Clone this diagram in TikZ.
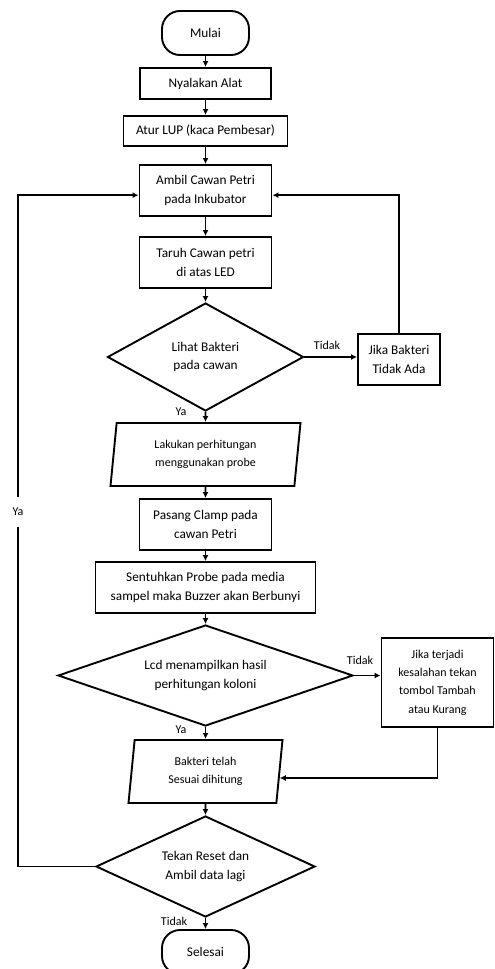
\documentclass[tikz,border=0pt]{standalone}
\usepackage{fontspec}
\setmainfont{Carlito}
\usepackage{tikz}
\usetikzlibrary{arrows.meta}
\usetikzlibrary{shapes.geometric}
\usetikzlibrary{calc}

\begin{document}
\begin{tikzpicture}[x=1pt, y=-1pt,
    important line/.style={line width=1.9pt},
    flow arrow/.style={line width=1.9pt, -{Latex[length=6pt,width=6pt]}},
    startstop/.style={draw, line width=1.9pt, rounded corners=18pt, minimum width=87pt, minimum height=44pt, font=\fontsize{13.3}{18.5}\selectfont},
    process/.style={draw, line width=1.9pt, align=center, inner sep=0pt, font=\fontsize{13.3}{18.5}\selectfont},
    small process/.style={process, font=\fontsize{12}{18.3}\selectfont},
    decision/.style={draw, diamond, line width=1.9pt, align=center, inner sep=0pt, font=\fontsize{13.3}{18.5}\selectfont},
    inout/.style={draw, trapezium, trapezium left angle=78, trapezium right angle=102, trapezium stretches body=true, line width=1.9pt, align=center, inner sep=0pt, font=\fontsize{12}{18.5}\selectfont},
    branch label/.style={inner sep=1pt, font=\fontsize{12}{14}\selectfont},
    every node/.style={color=black},
    ]

\useasboundingbox (0,0) rectangle (495,969);

%% draw nodes
\node[startstop] (mulai) at (205.5,33) {Mulai};
\node[process, minimum width=131pt, minimum height=31pt] (nyala) at (205.5,83.5) {Nyalakan Alat};
\node[process, minimum width=164pt, minimum height=30pt] (atur) at (205.5,131) {Atur LUP (kaca Pembesar)};
\node[process, minimum width=132pt, minimum height=51pt] (ambil) at (205.5,190.5) {Ambil Cawan Petri\\pada Inkubator};
\node[process, minimum width=132pt, minimum height=51pt] (taruh) at (205.5,262.5) {Taruh Cawan petri\\di atas LED};
\node[decision, shape aspect=1.81, minimum width=196pt, minimum height=108pt] (lihat) at (205.5,357) {Lihat Bakteri\\pada cawan};
\node[process, minimum width=82pt, minimum height=51pt] (jikaTidak) at (399,359.5) {Jika Bakteri\\Tidak Ada};
\node[inout, minimum width=190pt, minimum height=63pt] (lakukan) at (205.5,454.5) {Lakukan perhitungan\\menggunakan probe};
\node[process, minimum width=132pt, minimum height=51pt] (pasang) at (205.5,524.5) {Pasang Clamp pada\\cawan Petri};
\node[process, minimum width=220pt, minimum height=51pt] (sentuh) at (205.5,587.5) {Sentuhkan Probe pada media\\sampel maka Buzzer akan Berbunyi};
\node[decision, shape aspect=2.92, minimum width=295pt, minimum height=101pt] (lcd) at (205.5,675.5) {Lcd menampilkan hasil\\perhitungan koloni};
\node[small process, minimum width=112pt, minimum height=89pt] (koreksi) at (437.5,682.5) {Jika terjadi\\kesalahan tekan\\tombol Tambah\\atau Kurang};
\node[inout, minimum width=154pt, minimum height=63pt] (bakteri) at (205.5,771.5) {Bakteri telah\\Sesuai dihitung};
\node[decision, shape aspect=2.17, minimum width=219pt, minimum height=101pt] (tekan) at (205.5,866.5) {Tekan Reset dan\\Ambil data lagi};
\node[startstop] (selesai) at (205.5,952) {Selesai};

\coordinate (loopL) at (18,512);

%% draw arrows
\draw[flow arrow] (mulai) -- (nyala);
\draw[flow arrow] (nyala) -- (atur);
\draw[flow arrow] (atur) -- (ambil);
\draw[flow arrow] (ambil) -- (taruh);
\draw[flow arrow] (taruh) -- (lihat);
\draw[flow arrow] (lihat.east) -- (jikaTidak.west |- lihat.east);
\draw[flow arrow] (jikaTidak.north) |- (ambil.-4);
\draw[flow arrow] (lihat) -- (lakukan);
\draw[flow arrow] (lakukan) -- (pasang);
\draw[flow arrow] (pasang) -- (sentuh);
\draw[flow arrow] (sentuh) -- (lcd);
\draw[flow arrow] (lcd.east) -- (koreksi.west |- lcd.east);
\draw[flow arrow] (koreksi.south) |- (bakteri.-5);
\draw[flow arrow] (lcd) -- (bakteri);
\draw[flow arrow] (bakteri) -- (tekan);
\draw[flow arrow] (tekan) -- (selesai);
\draw[flow arrow] (tekan.west) -| (loopL) |- (ambil.184);

%% label branches
\node[branch label] (tidakLihat) at (327,345) {Tidak};
\node[branch label] (yaLihat) at (181,412) {Ya};
\node[branch label] (tidakLcd) at (360,660) {Tidak};
\node[branch label] (yaLcd) at (181,730) {Ya};
\node[branch label] (tidakTekan) at (174,921) {Tidak};
\node[branch label, fill=white, minimum height=30pt] (yaLoop) at (loopL) {Ya};

\end{tikzpicture}
\end{document}
